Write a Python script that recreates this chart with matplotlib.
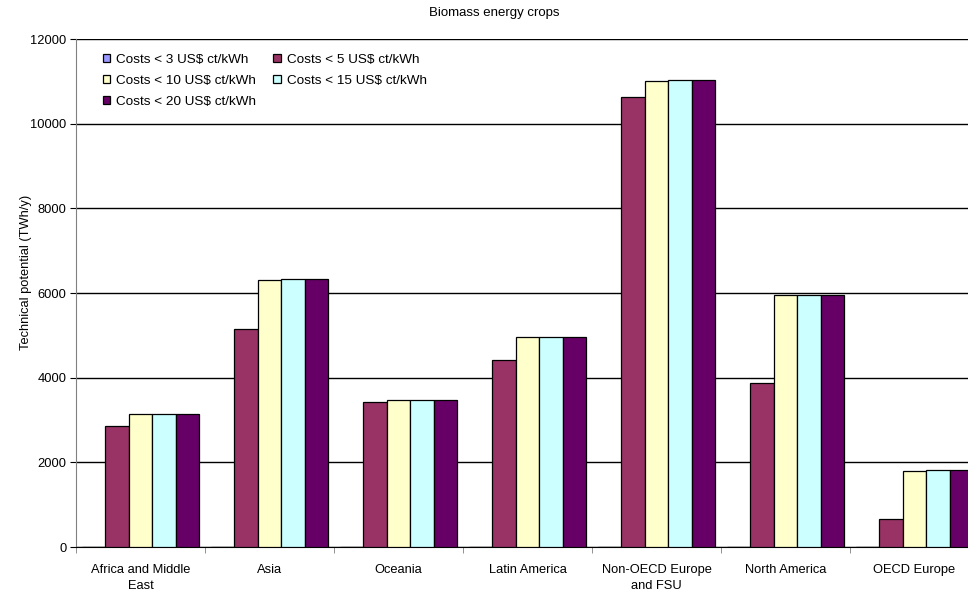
import matplotlib
matplotlib.use("Agg")
import matplotlib.pyplot as plt
import numpy as np

plt.rcParams['font.family'] = ['Liberation Sans', 'DejaVu Sans']

regions = ["Africa and Middle\nEast", "Asia", "Oceania", "Latin America",
           "Non-OECD Europe\nand FSU", "North America", "OECD Europe"]

series_labels = ["Costs < 3 US$ ct/kWh", "Costs < 5 US$ ct/kWh",
                 "Costs < 10 US$ ct/kWh", "Costs < 15 US$ ct/kWh",
                 "Costs < 20 US$ ct/kWh"]

cost_lt3 = [0, 0, 0, 0, 0, 0, 0]
cost_lt5 = [2850, 5140, 3430, 4420, 10620, 3870, 660]
cost_lt10 = [3130, 6310, 3480, 4950, 11010, 5950, 1800]
cost_lt15 = [3130, 6340, 3480, 4950, 11040, 5950, 1810]
cost_lt20 = [3130, 6340, 3480, 4950, 11040, 5950, 1810]

yticks = [0, 2000, 4000, 6000, 8000, 10000, 12000]

colors = ["#9999FF", "#993366", "#FFFFCC", "#CCFFFF", "#660066"]

fig = plt.figure(figsize=(9.68, 5.90), dpi=100)
ax = fig.add_axes([76 / 968, 43 / 590, 903 / 968, 508 / 590])

x = np.arange(len(regions))
width = 0.182
all_series = [cost_lt3, cost_lt5, cost_lt10, cost_lt15, cost_lt20]
handles = []
for i, (vals, lab, col) in enumerate(zip(all_series, series_labels, colors)):
    b = ax.bar(x + (i - 2) * width, vals, width, color=col, edgecolor="black",
               linewidth=0.9, label=lab, zorder=3)
    handles.append(b)

ax.set_xlim(-0.5, len(regions) - 0.5)
ax.set_ylim(0, 12000)
ax.set_yticks(yticks)
ax.set_yticklabels([str(v) for v in yticks], fontsize=9.3)
ax.yaxis.grid(True, color="black", linewidth=1.0, zorder=0)
ax.set_axisbelow(True)

ax.set_xticks(x)
ax.set_xticklabels(regions, fontsize=9.3, linespacing=1.45)
ax.set_xticks(np.arange(len(regions) + 1) - 0.5, minor=True)
ax.tick_params(axis="x", which="major", length=0, pad=12)
ax.tick_params(axis="x", which="minor", length=4, color="#808080")
ax.tick_params(axis="y", length=4, color="black", pad=3)

for s in ["top", "right"]:
    ax.spines[s].set_visible(False)
ax.spines["left"].set_color("#808080")
ax.spines["bottom"].set_color("black")

fig.text(26 / 968, 1 - 272 / 590, "Technical potential (TWh/y)", rotation=90,
         ha="center", va="center", fontsize=9.3)
fig.text(494 / 968, 1 - 13 / 590, "Biomass energy crops", ha="center",
         va="center", fontsize=9.5)

order = [0, 2, 4, 1, 3]
leg = ax.legend([handles[k] for k in order], [series_labels[k] for k in order],
                ncol=2, loc="upper left", bbox_to_anchor=(27 / 903, 1 - 15 / 508),
                frameon=False, fontsize=9.7, handlelength=0.55,
                handleheight=0.55, handletextpad=0.45, columnspacing=1.25,
                labelspacing=0.66, borderaxespad=0, borderpad=0)

fig.savefig("out.png", dpi=100)
